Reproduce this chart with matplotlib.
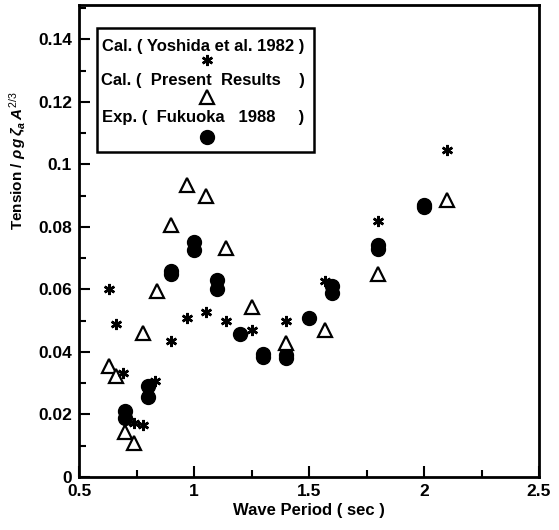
import matplotlib
matplotlib.use("Agg")
import matplotlib.pyplot as plt
from matplotlib.ticker import MultipleLocator, FuncFormatter
from matplotlib.patches import Rectangle

plt.rcParams['font.family'] = ['Liberation Sans', 'DejaVu Sans']
plt.rcParams['mathtext.fontset'] = 'custom'
plt.rcParams['mathtext.rm'] = 'Liberation Sans'
plt.rcParams['mathtext.it'] = 'Liberation Sans:italic:bold'
plt.rcParams['mathtext.bf'] = 'Liberation Sans:bold'

# Cal. (Yoshida et al. 1982) - asterisks
yoshida_x = [0.63, 0.66, 0.69, 0.74, 0.78, 0.83, 0.90, 0.97, 1.05, 1.14, 1.25, 1.40, 1.57, 1.80, 2.10]
yoshida_y = [0.060, 0.049, 0.0334, 0.0172, 0.0166, 0.0307, 0.0435, 0.051, 0.0529, 0.050, 0.047, 0.050, 0.0628, 0.082, 0.1046]

# Cal. (Present Results) - open triangles
present_x = [0.63, 0.66, 0.70, 0.74, 0.78, 0.84, 0.90, 0.97, 1.05, 1.14, 1.25, 1.40, 1.57, 1.80, 2.10]
present_y = [0.0355, 0.0323, 0.0145, 0.0108, 0.0462, 0.0595, 0.0806, 0.0934, 0.090, 0.0734, 0.0545, 0.043, 0.047, 0.065, 0.0886]

# Exp. (Fukuoka 1988) - filled circles
fukuoka_x = [0.70, 0.70, 0.80, 0.80, 0.90, 0.90, 1.00, 1.00, 1.10, 1.10, 1.20, 1.30, 1.30,
             1.40, 1.40, 1.50, 1.60, 1.60, 1.80, 1.80, 2.00, 2.00]
fukuoka_y = [0.021, 0.019, 0.029, 0.0255, 0.066, 0.065, 0.0753, 0.0726, 0.063, 0.060, 0.0458, 0.0395, 0.0385,
             0.039, 0.038, 0.0508, 0.061, 0.059, 0.0742, 0.073, 0.087, 0.0865]

legend_labels = ["Cal. ( Yoshida et al. 1982 )",
                 "Cal. (  Present  Results    )",
                 "Exp. (  Fukuoka   1988     )"]

fig = plt.figure(figsize=(5.59, 5.30), dpi=100)
ax = fig.add_axes([79/559, 53/530, 460/559, 472/530])

star_kw = dict(marker=(6, 2, 0), markersize=8, markeredgewidth=1.8, color='black', linestyle='none')
tri_kw = dict(marker='^', markersize=10, markerfacecolor='white', markeredgecolor='black',
              markeredgewidth=1.6, linestyle='none')
circ_kw = dict(marker='o', markersize=10, color='black', linestyle='none')

ax.plot(fukuoka_x, fukuoka_y, **circ_kw)
ax.plot(present_x, present_y, **tri_kw)
ax.plot(yoshida_x, yoshida_y, **star_kw)

ax.set_xlim(0.5, 2.5)
ax.set_ylim(0, 0.151)
ax.xaxis.set_major_locator(MultipleLocator(0.5))
ax.xaxis.set_minor_locator(MultipleLocator(0.25))
ax.yaxis.set_major_locator(MultipleLocator(0.02))
ax.yaxis.set_minor_locator(MultipleLocator(0.01))
fmt = FuncFormatter(lambda v, p: '%g' % round(v, 4))
ax.xaxis.set_major_formatter(fmt)
ax.yaxis.set_major_formatter(fmt)
ax.tick_params(which='both', direction='in', top=False, right=False, width=1.5)
ax.tick_params(which='major', length=8, labelsize=12.5, pad=5)
ax.tick_params(which='minor', length=5)
for lab in ax.get_xticklabels() + ax.get_yticklabels():
    lab.set_fontweight('bold')
for s in ax.spines.values():
    s.set_linewidth(2)

ax.set_xlabel("Wave Period ( sec )", fontsize=12, fontweight='bold', labelpad=3)
ax.set_ylabel(r"Tension / $\rho\, g\, \zeta_a\, A^{2/3}$", fontsize=11, fontweight='bold')
ax.yaxis.set_label_coords(-0.11, 0.67)

# legend box
ax.add_patch(Rectangle((0.039, 0.6886), 0.472, 0.2624, transform=ax.transAxes,
                       fill=False, edgecolor='black', linewidth=1.8, zorder=5))
tx = 0.27
mx = 0.278
ax.text(tx, 0.9117, legend_labels[0], transform=ax.transAxes, ha='center', va='center',
        fontsize=12, fontweight='bold')
ax.plot([mx], [0.8835], transform=ax.transAxes, **star_kw)
ax.text(tx, 0.841, legend_labels[1], transform=ax.transAxes, ha='center', va='center',
        fontsize=12, fontweight='bold')
ax.plot([mx], [0.8057], transform=ax.transAxes, **tri_kw)
ax.text(tx, 0.7606, legend_labels[2], transform=ax.transAxes, ha='center', va='center',
        fontsize=12, fontweight='bold')
ax.plot([mx], [0.721], transform=ax.transAxes, **circ_kw)

fig.savefig("out.png", dpi=100)
